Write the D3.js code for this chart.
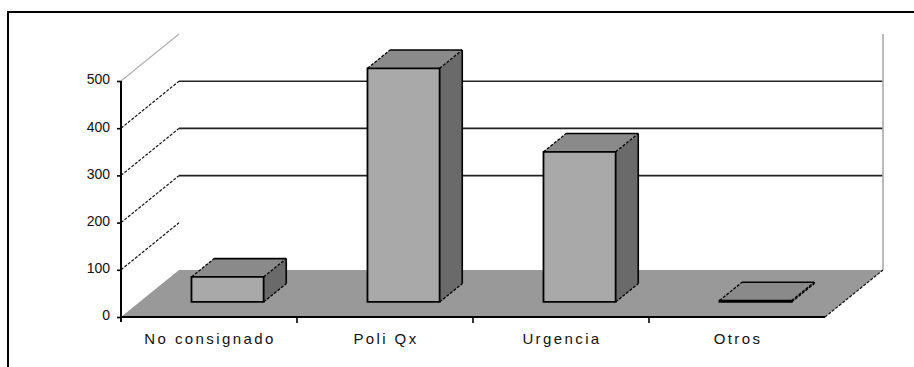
<!DOCTYPE html>
<html>
<head>
<meta charset="utf-8">
<script src="https://cdn.jsdelivr.net/npm/d3@7"></script>
<style>
  html, body { margin: 0; padding: 0; background: #fff; }
  svg { display: block; font-family: "Liberation Sans", Arial, sans-serif; }
</style>
</head>
<body>
<svg id="chart" width="914" height="367"></svg>
<script>
// Chart data
const categories = ["No consignado", "Poli Qx", "Urgencia", "Otros"];
const values = [53, 495, 318, 3];
const yTicks = [0, 100, 200, 300, 400, 500];
const wallGridTicks = [200, 300, 400];

const svg = d3.select("#chart");

// Front plane of the 3-D box and its depth vector (oblique projection)
const left = 121, right = 825;
const y = d3.scaleLinear().domain([0, 500]).range([317, 81]);
const x = d3.scaleBand().domain(categories).range([left, right]);
const DX = 58, DY = -47;
const pt = (xv, v, d) => [xv + d * DX, y(v) + d * DY];
const poly = pts => "M" + pts.map(p => p.join(",")).join("L") + "Z";
const seg = (g, a, b, stroke, width, dash) =>
  g.append("line")
    .attr("x1", a[0]).attr("y1", a[1]).attr("x2", b[0]).attr("y2", b[1])
    .attr("stroke", stroke).attr("stroke-width", width)
    .attr("stroke-dasharray", dash || null);

// Outer frame
svg.append("rect")
  .attr("x", 8).attr("y", 12).attr("width", 940).attr("height", 420)
  .attr("fill", "#fff").attr("stroke", "#000").attr("stroke-width", 2);

const walls = svg.append("g");

// Floor
walls.append("path")
  .attr("d", poly([pt(left, 0, 0), pt(right, 0, 0), pt(right, 0, 1), pt(left, 0, 1)]))
  .attr("fill", "#999999");

// Side-wall diagonals from the value ticks to the back wall
yTicks.filter(t => t > 0).forEach(t => {
  if (t === 500) seg(walls, pt(left, t, 0), pt(left, t, 1), "#b0b0b0", 1.2);
  else seg(walls, pt(left, t, 0), pt(left, t, 1), "#111", 1.2, "3,1.5");
});

// Back-wall gridlines
wallGridTicks.forEach(t => {
  seg(walls, pt(left, t, 1), pt(right, t, 1), "#222", 1.6);
});

// Right edge of the back wall and floor
seg(walls, pt(right, 0, 1), pt(right, 500, 1), "#aaaaaa", 1.6);
seg(walls, pt(right, 0, 0), pt(right, 0, 1), "#111", 1.2, "3,1.5");

// Bars as boxes
const barW = x.bandwidth() * 0.41;
const d0 = 0.32, d1 = 0.71;
const bars = svg.append("g");
categories.forEach((c, i) => {
  const v = values[i];
  const cx = x(c) + x.bandwidth() / 2;
  const xl = cx - barW / 2, xr = cx + barW / 2;
  const g = bars.append("g");
  // side face
  g.append("path")
    .attr("d", poly([pt(xr, 0, d0), pt(xr, 0, d1), pt(xr, v, d1), pt(xr, v, d0)]))
    .attr("fill", "#6a6a6a");
  // top face
  g.append("path")
    .attr("d", poly([pt(xl, v, d0), pt(xr, v, d0), pt(xr, v, d1), pt(xl, v, d1)]))
    .attr("fill", "#8a8a8a");
  // front face
  g.append("path")
    .attr("d", poly([pt(xl, 0, d0), pt(xr, 0, d0), pt(xr, v, d0), pt(xl, v, d0)]))
    .attr("fill", "#a9a9a9");
  // edges
  seg(g, pt(xl, v, d0), pt(xl, v, d1), "#000", 1.3, "3,1.5");
  seg(g, pt(xr, v, d0), pt(xr, v, d1), "#000", 1.3, "3,1.5");
  seg(g, pt(xr, 0, d0), pt(xr, 0, d1), "#000", 1.3, "3,1.5");
  seg(g, pt(xl, v, d1), pt(xr, v, d1), "#000", 1.6);
  seg(g, pt(xr, v, d1), pt(xr, 0, d1), "#000", 1.6);
  g.append("path")
    .attr("d", poly([pt(xl, 0, d0), pt(xr, 0, d0), pt(xr, v, d0), pt(xl, v, d0)]))
    .attr("fill", "none").attr("stroke", "#000").attr("stroke-width", 1.8);
});

// Value axis
const yAxis = svg.append("g")
  .attr("transform", `translate(${left},0)`)
  .call(d3.axisLeft(y).tickValues(yTicks).tickSize(4).tickPadding(7).tickFormat(d3.format("d")));
yAxis.select(".domain").remove();
yAxis.selectAll(".tick line").attr("stroke", "#000").attr("stroke-width", 1.6);
yAxis.selectAll(".tick text")
  .attr("font-size", 14).attr("fill", "#111")
  .attr("font-family", "Liberation Sans, Arial, sans-serif")
  .attr("dy", "0.2em");
seg(svg, [left, y(500)], [left, y(0) + 5], "#000", 2);

// Category axis
seg(svg, [left, y(0)], [right, y(0)], "#000", 2);
categories.slice(1).forEach(c => seg(svg, [x(c), y(0)], [x(c), y(0) + 6], "#000", 1.6));

svg.append("g").selectAll("text")
  .data(categories)
  .join("text")
  .attr("x", c => x(c) + x.bandwidth() / 2 + 1)
  .attr("y", 344)
  .attr("text-anchor", "middle")
  .attr("font-size", 15)
  .attr("letter-spacing", "2.4px")
  .attr("fill", "#111")
  .text(c => c);
</script>
</body>
</html>
